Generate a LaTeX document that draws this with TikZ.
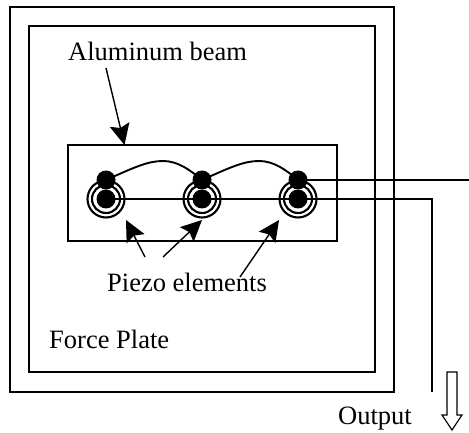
\documentclass[tikz,border=0pt]{standalone}
\usepackage{fontspec}
\setmainfont{Liberation Serif}
\usetikzlibrary{arrows.meta}
\tikzset{
  x=1bp,y=-1bp,
  frame/.style={draw=black,line width=1.8bp,fill=none},
  wire/.style={draw=black,line width=1.2bp},
  jumper/.style={draw=black,line width=1.9bp},
  dot/.style={circle,fill=black,minimum size=19bp,inner sep=0pt},
  ringa/.style={circle,draw=black,line width=2.1bp,minimum size=37bp,inner sep=0pt},
  ringb/.style={circle,draw=black,line width=2.1bp,minimum size=28bp,inner sep=0pt},
  lab/.style={inner sep=0pt,font=\fontsize{26.6}{30}\selectfont,anchor=base west},
  pointer/.style={draw=black,line width=1.4bp,-{Stealth[length=21bp,width=20bp,inset=3.5bp]}},
}
\begin{document}
\begin{tikzpicture}
\useasboundingbox (0,0) rectangle (469,433);
\draw[frame] (10,7) rectangle (394,392);
\draw[frame] (29,26) rectangle (375,372);
\node[frame,minimum width=269bp,minimum height=96bp,inner sep=0pt] (beam) at (202.5,193) {};
\foreach \n/\x in {a/106,b/202,c/298}{
  \node[ringa] (ro\n) at (\x,199) {};
  \node[ringb] (ri\n) at (\x,199) {};
  \node[dot] (ce\n) at (\x,199) {};
  \node[dot] (to\n) at (\x,180) {};
}
\coordinate (wireend) at (469,180);
\coordinate (corner) at (432,199);
\coordinate (outend) at (432,392);
\draw[wire] (cea.center) -- (corner) -- (outend);
\draw[wire] (toc.center) -- (wireend);
\draw[jumper] (toa.center) .. controls (135,167) and (148,161) .. (163,161) .. controls (178,161) and (190,170) .. (tob.center);
\draw[jumper] (tob.center) .. controls (231,167) and (244,161) .. (259,161) .. controls (274,161) and (286,170) .. (toc.center);
\node[lab] (alu) at (68,60.5) {Aluminum beam};
\node[lab] (pie) at (107,291) {Piezo elements};
\node[lab] (fp) at (49,348) {Force Plate};
\node[lab] (out) at (338,424) {Output};
\coordinate (a0) at (106,68);
\coordinate (a1) at (124.5,145);
\coordinate (p1s) at (145,257);
\coordinate (p1e) at (126,220);
\coordinate (p2s) at (163,257);
\coordinate (p2e) at (202,220);
\coordinate (p3s) at (240,277);
\coordinate (p3e) at (279,220);
\draw[pointer] (a0) -- (a1);
\draw[pointer] (p1s) -- (p1e);
\draw[pointer] (p2s) -- (p2e);
\draw[pointer] (p3s) -- (p3e);
\draw[draw=black,line width=1.2bp,fill=white,line join=miter] (447,372) -- (457,372) -- (457,415) -- (462,415) -- (452,430) -- (442,415) -- (447,415) -- cycle;
\end{tikzpicture}
\end{document}
